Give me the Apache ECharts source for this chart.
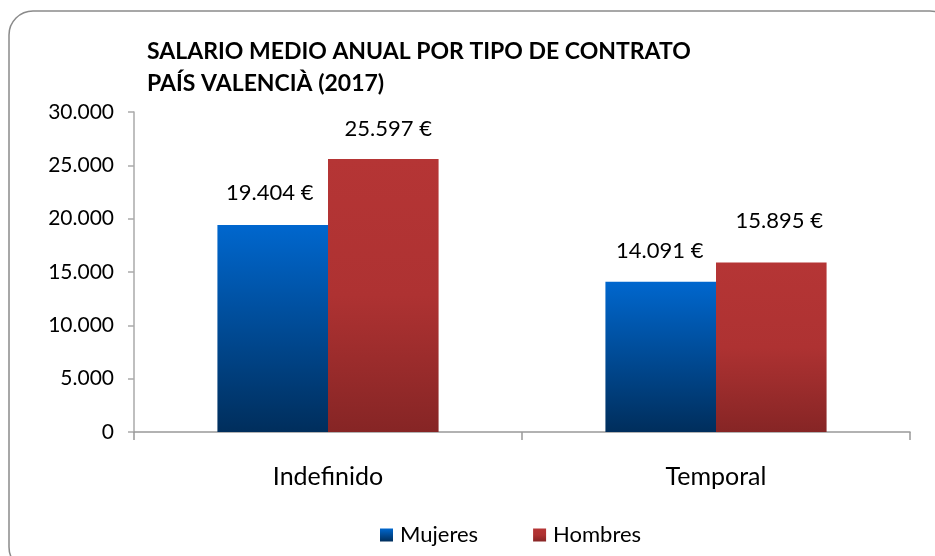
<!DOCTYPE html>
<html>
<head>
<meta charset="utf-8">
<script src="https://cdn.jsdelivr.net/npm/echarts@6/dist/echarts.min.js"></script>
<style>
  html, body { margin: 0; padding: 0; background: #fff; }
  #chart { width: 935px; height: 556px; }
</style>
</head>
<body>
<div id="chart"></div>
<script>
(function () {
  'use strict';

  var categories = ['Indefinido', 'Temporal'];
  var mujeres = [19404, 14091];
  var hombres = [25597, 15895];
  var yTicks = [0, 5000, 10000, 15000, 20000, 25000, 30000];

  // label lift above each bar (the original labels sit a little unevenly)
  var liftMujeres = [21, 20];
  var liftHombres = [19, 31];

  function fmt(v) {
    return String(v).replace(/\B(?=(\d{3})+(?!\d))/g, '.');
  }

  function withLabels(values, lifts, dx) {
    return values.map(function (v, i) {
      return {
        value: v,
        label: { distance: lifts[i], offset: [dx[i], 0] }
      };
    });
  }

  var font = 'Lato, "Open Sans", sans-serif';

  var blue = new echarts.graphic.LinearGradient(0, 0, 0, 1, [
    { offset: 0, color: '#0067CE' },
    { offset: 1, color: '#002E5C' }
  ]);
  var red = new echarts.graphic.LinearGradient(0, 0, 0, 1, [
    { offset: 0, color: '#B53535' },
    { offset: 0.5, color: '#AE3232' },
    { offset: 1, color: '#862525' }
  ]);

  var label = {
    show: true,
    position: 'top',
    color: '#000',
    fontFamily: font,
    fontSize: 22,
    formatter: function (p) { return fmt(p.value) + ' €'; }
  };

  var option = {
    animation: false,
    backgroundColor: '#fff',
    textStyle: { fontFamily: font },
    graphic: [{
      type: 'rect',
      shape: { x: 9, y: 11, width: 945, height: 560, r: 24 },
      style: { fill: 'none', stroke: '#8a8a8a', lineWidth: 1.5 },
      silent: true
    }],
    title: {
      text: 'SALARIO MEDIO ANUAL POR TIPO DE CONTRATO\nPAÍS VALENCIÀ (2017)',
      left: 142,
      top: 31,
      textStyle: {
        fontFamily: font,
        fontWeight: 'bold',
        fontSize: 23,
        lineHeight: 32,
        color: '#000'
      }
    },
    legend: {
      data: ['Mujeres', 'Hombres'],
      left: 375,
      top: 519,
      itemWidth: 13,
      itemHeight: 13,
      itemGap: 55,
      icon: 'rect',
      textStyle: { fontFamily: font, fontSize: 22, color: '#000', padding: [0, 0, 0, 2] }
    },
    grid: { left: 134, right: 25, top: 112, bottom: 124 },
    xAxis: {
      type: 'category',
      data: categories,
      axisLine: { lineStyle: { color: '#999', width: 1.5 } },
      axisTick: { show: true, length: 8, lineStyle: { color: '#999', width: 1.5 } },
      axisLabel: { color: '#000', fontFamily: font, fontSize: 25, margin: 32 }
    },
    yAxis: {
      type: 'value',
      min: yTicks[0],
      max: yTicks[yTicks.length - 1],
      interval: yTicks[1] - yTicks[0],
      splitLine: { show: false },
      axisLine: { show: true, lineStyle: { color: '#aaa', width: 1.5 } },
      axisTick: { show: true, length: 6, lineStyle: { color: '#aaa', width: 1.5 } },
      axisLabel: {
        color: '#000',
        fontFamily: font,
        fontSize: 21,
        margin: 20,
        formatter: function (v) { return fmt(v); }
      }
    },
    series: [{
      name: 'Mujeres',
      type: 'bar',
      barGap: 0,
      barCategoryGap: '43%',
      itemStyle: { color: blue },
      label: label,
      data: withLabels(mujeres, liftMujeres, [-3, -1])
    }, {
      name: 'Hombres',
      type: 'bar',
      barGap: 0,
      barCategoryGap: '43%',
      itemStyle: { color: red },
      label: label,
      data: withLabels(hombres, liftHombres, [5, 8])
    }]
  };

  var myChart = echarts.init(document.getElementById('chart'));
  myChart.setOption(option);
}());
</script>
</body>
</html>
